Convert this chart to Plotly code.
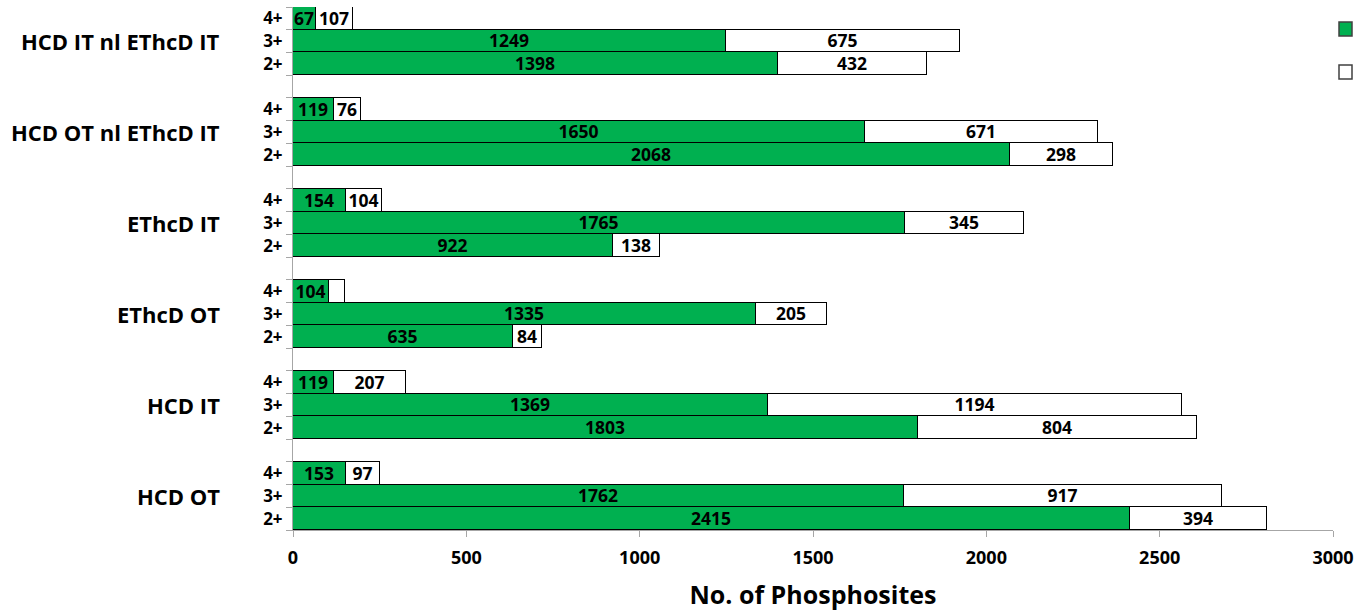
import plotly.graph_objects as go

# Acquisition methods, bottom group first
methods = ["HCD OT", "HCD IT", "EThcD OT", "EThcD IT",
           "HCD OT nl EThcD IT", "HCD IT nl EThcD IT"]
charges = ["2+", "3+", "4+"]

# Phosphosite counts per method, ordered as in `charges`
green_counts = [
    [2415, 1762, 153],
    [1803, 1369, 119],
    [635, 1335, 104],
    [922, 1765, 154],
    [2068, 1650, 119],
    [1398, 1249, 67],
]
white_counts = [
    [394, 917, 97],
    [804, 1194, 207],
    [84, 205, 46],
    [138, 345, 104],
    [298, 671, 76],
    [432, 675, 107],
]
# segments too narrow to carry a printed count
hidden_labels = {("EThcD OT", "4+", "white")}

x_ticks = [0, 500, 1000, 1500, 2000, 2500, 3000]

GREEN = "#00B050"
AXIS_GREY = "#A6A6A6"
FONT = "'Open Sans', sans-serif"

# each group uses 3 bar slots plus one empty slot as spacer
slots, slot_text = [], []
gx, wx, gt, wt = [], [], [], []
for g, m in enumerate(methods):
    for c, ch in enumerate(charges):
        pos = 4 * g + c
        slots.append(pos)
        slot_text.append(ch)
        gv = green_counts[g][c]
        wv = white_counts[g][c]
        gx.append(gv)
        wx.append(wv)
        gt.append("" if (m, ch, "green") in hidden_labels else str(gv))
        wt.append("" if (m, ch, "white") in hidden_labels else str(wv))

bar_common = dict(
    orientation="h", width=1.0, textposition="inside",
    insidetextanchor="middle", textangle=0, constraintext="none",
    textfont=dict(family=FONT, size=17.5, color="black", weight="bold"),
    hoverinfo="skip", showlegend=False,
)

fig = go.Figure()
fig.add_trace(go.Bar(
    y=slots, x=gx, text=gt, name="green",
    marker=dict(color=GREEN, line=dict(color="black", width=1.2)),
    **bar_common,
))
fig.add_trace(go.Bar(
    y=slots, x=wx, text=wt, name="white",
    marker=dict(color="white", line=dict(color="black", width=1.2)),
    **bar_common,
))

top_slot = 4 * (len(methods) - 1) + 2
W, H = 1360, 613
plot_left, plot_right = 293, 1333
plot_top, plot_bottom = 7, 530
plot_w = plot_right - plot_left
plot_h = plot_bottom - plot_top


def px_x(px):
    return (px - plot_left) / plot_w


def px_y(py):
    return 1 - (py - plot_top) / plot_h


for g, m in enumerate(methods):
    fig.add_annotation(
        x=px_x(222), xref="paper", xanchor="right",
        y=4 * g + 1, yref="y", yanchor="middle",
        text=m, showarrow=False,
        font=dict(family=FONT, size=22, color="black", weight="bold"),
    )

# series key squares at the top right
for fill, (top, bottom) in [(GREEN, (22, 36)), ("white", (65, 79))]:
    fig.add_shape(
        type="rect", xref="paper", yref="paper",
        x0=px_x(1339), x1=px_x(1352), y0=px_y(bottom), y1=px_y(top),
        fillcolor=fill, line=dict(color="#404040", width=1.5),
    )

fig.update_layout(
    width=W, height=H,
    margin=dict(l=plot_left, r=W - plot_right, t=plot_top, b=H - plot_bottom),
    paper_bgcolor="white", plot_bgcolor="white",
    barmode="stack", bargap=0, showlegend=False,
    font=dict(family=FONT, color="black"),
    xaxis=dict(
        range=[0, 3000], tickvals=x_ticks,
        showgrid=False, zeroline=False,
        showline=True, linecolor=AXIS_GREY, linewidth=1,
        ticks="outside", ticklen=6, tickcolor=AXIS_GREY,
        tickfont=dict(family=FONT, size=18, weight="bold"),
        ticklabelstandoff=5,
        title=dict(text="No. of Phosphosites", standoff=18,
                   font=dict(family=FONT, size=25, weight="bold")),
    ),
    yaxis=dict(
        range=[-0.5, top_slot + 0.5],
        tickvals=slots, ticktext=slot_text, ticks="",
        showgrid=False, zeroline=False,
        showline=True, linecolor=AXIS_GREY, linewidth=1,
        tickfont=dict(family=FONT, size=17, weight="bold"),
        ticklabelstandoff=6,
        minor=dict(
            tickvals=[s + 0.5 for s in range(-1, top_slot + 1)],
            ticks="outside", ticklen=6, tickcolor=AXIS_GREY, showgrid=False,
        ),
    ),
)

fig.write_html("out.html")
